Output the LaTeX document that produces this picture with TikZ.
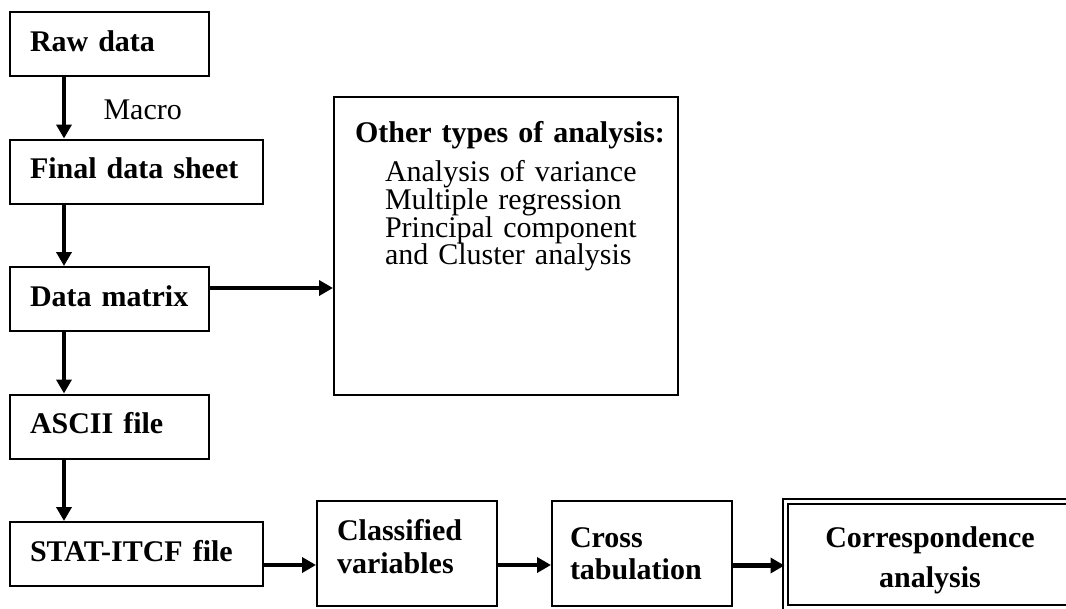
\documentclass[tikz,border=0pt]{standalone}
\usepackage{fontspec}
\setmainfont{Liberation Serif}
\usetikzlibrary{arrows.meta,positioning}
\tikzset{
  box/.style={draw=black,line width=2pt,inner sep=0pt,align=left,
              text height=20pt,text depth=6pt,
              font=\bfseries\fontsize{30}{33}\selectfont},
  narrowbox/.style={box,minimum width=199pt,minimum height=64pt,text width=159pt},
  widebox/.style={box,minimum width=253pt,minimum height=64pt,text width=213pt},
  dbox/.style={box,double,double distance=3pt,align=center},
  plain/.style={font=\fontsize{30}{28}\selectfont},
  flow/.style={-{Triangle[length=14pt,width=15pt]},line width=4.5pt},
}

\begin{document}
\begin{tikzpicture}[x=1pt,y=-1pt]
  \useasboundingbox (0,0) rectangle (1066,608);
  % left column
  \node[narrowbox] (raw)    at (109.5,44)    {Raw data};
  \node[widebox]   (final)  at (136.5,171.5) {Final data sheet};
  \node[narrowbox] (matrix) at (109.5,299)   {Data matrix};
  \node[narrowbox] (ascii)  at (109.5,426.5) {ASCII file};
  \node[widebox]   (stat)   at (136.5,554)   {STAT-ITCF file};
  \coordinate (colx) at (64,0);
  \foreach \a/\b in {raw/final,final/matrix,matrix/ascii,ascii/stat}
    \draw[flow] (\a.south -| colx) -- (\b.north -| colx);
  \node[plain,anchor=base west] (macro) at (100,119) {Macro};
  % the other analyses
  \node[box,minimum width=344pt,minimum height=298pt,text width=302pt,
        text depth=228pt,font=\bfseries\fontsize{30}{27.7}\selectfont] (other) at (506,246)
    {\mbox{Other types of analysis:}\\[12pt]\mdseries
     \hspace*{30pt}Analysis of variance\\
     \hspace*{30pt}Multiple regression\\
     \hspace*{30pt}Principal component\\
     \hspace*{30pt}and Cluster analysis};
  \draw[flow] ([yshift=11pt]matrix.east) -- ([yshift=11pt]matrix.east -| other.west);
  % bottom row
  \node[box,minimum width=180pt,minimum height=105pt,text width=140pt,text depth=47pt] (cls) at (407,553.5) {Classified\\variables};
  \node[box,minimum width=180pt,minimum height=105pt,text width=144pt,text depth=32pt,
        font=\bfseries\fontsize{30}{32}\selectfont] (cross) at (642,553.5) {Cross\\tabulation};
  \node[dbox,minimum width=289pt,minimum height=106.5pt,text width=250pt,text depth=34.5pt,
        font=\bfseries\fontsize{30}{40}\selectfont] (corr) at (930,554.25) {Correspondence\\analysis};
  \draw[flow] ([yshift=-11pt]stat.east) -- ([yshift=-11pt]stat.east -| cls.west);
  \draw[flow] ([yshift=-11.5pt]cls.east) -- ([yshift=-11.5pt]cls.east -| cross.west);
  \draw[flow] ([yshift=-12pt]cross.east) -- ([yshift=-12pt]cross.east -| corr.west);
\end{tikzpicture}
\end{document}
